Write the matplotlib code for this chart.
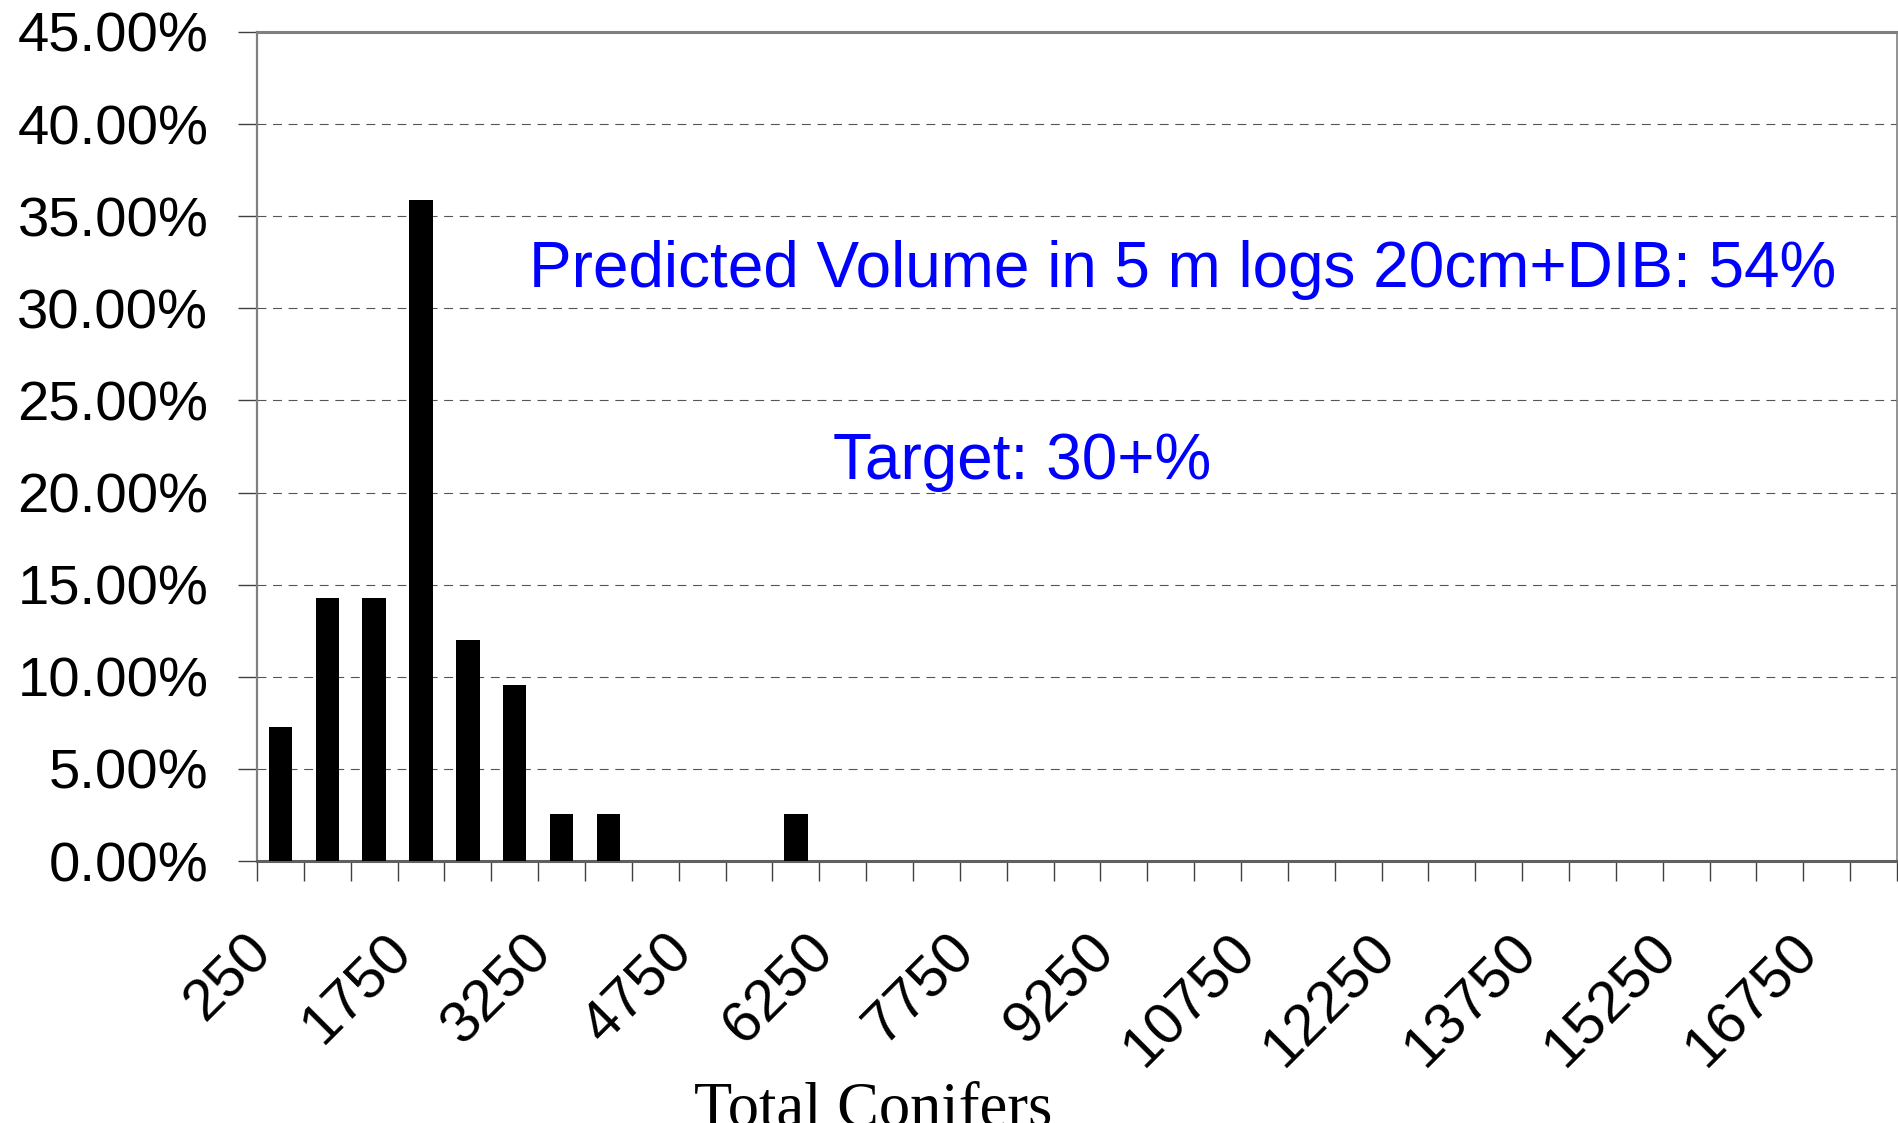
import matplotlib
matplotlib.use("Agg")
import matplotlib.pyplot as plt
from matplotlib.ticker import FixedLocator, NullFormatter

# categories: lower class value of total conifers, step 500
categories = list(range(250, 17251, 500))
# percent of plots in each class
percents = [7.26, 14.26, 14.26, 35.88, 12.0, 9.54, 2.56, 2.56, 0, 0, 0, 2.56]
percents = percents + [0] * (len(categories) - len(percents))
label_every = 3
yticks = [0, 5, 10, 15, 20, 25, 30, 35, 40, 45]

note_volume = "Predicted Volume in 5 m logs 20cm+DIB: 54%"
note_target = "Target: 30+%"
xlabel = "Total Conifers"

fig = plt.figure(figsize=(18.99, 11.23), dpi=100)
ax = fig.add_axes([257 / 1899, 1 - 861 / 1123, 1640 / 1899, 829 / 1123])

x = list(range(len(categories)))
ax.bar(x, percents, width=0.5, color="black", zorder=3)

ax.set_xlim(-0.5, len(categories) - 0.5)
ax.set_ylim(0, 45)

# tick marks on category boundaries, labels near the centre of every third category
ax.xaxis.set_major_locator(FixedLocator([i - 0.5 for i in range(len(categories) + 1)]))
ax.xaxis.set_major_formatter(NullFormatter())
ax.xaxis.set_minor_locator(FixedLocator([i - 0.15 for i in x[::label_every]]))
ax.set_xticklabels([str(c) for c in categories[::label_every]], minor=True,
                   rotation=45, ha="right", va="baseline", rotation_mode="anchor",
                   fontsize=42, family="Liberation Sans")
ax.tick_params(axis="x", which="major", length=14.4, width=1, color="#404040")
ax.tick_params(axis="x", which="minor", length=0, pad=67)

ax.set_yticks(yticks)
ax.set_yticklabels(["%.2f%%" % v for v in yticks], fontsize=40.5, family="Liberation Sans")
ax.tick_params(axis="y", length=14, width=1, color="#404040", pad=21)

ax.yaxis.grid(True, color="#555555", linestyle=(0, (8, 6)), linewidth=0.8, zorder=0)
ax.set_axisbelow(True)

ax.spines["top"].set_color("#808080")
ax.spines["top"].set_linewidth(2.2)
ax.spines["left"].set_color("#808080")
ax.spines["left"].set_linewidth(1.6)
ax.spines["bottom"].set_color("#606060")
ax.spines["bottom"].set_linewidth(2.2)
ax.spines["right"].set_color("#808080")
ax.spines["right"].set_linewidth(1.2)

ax.text(0.1658, 0.693, note_volume, transform=ax.transAxes, color="#0000ff",
        fontsize=46, family="Liberation Sans", va="baseline", ha="left")
ax.text(0.351, 0.461, note_target, transform=ax.transAxes, color="#0000ff",
        fontsize=46, family="Liberation Sans", va="baseline", ha="left")

ax.set_xlabel(xlabel, fontsize=45, family="Liberation Serif", va="baseline")
ax.xaxis.set_label_coords(0.376, -0.319)

fig.savefig("out.png", dpi=100)
